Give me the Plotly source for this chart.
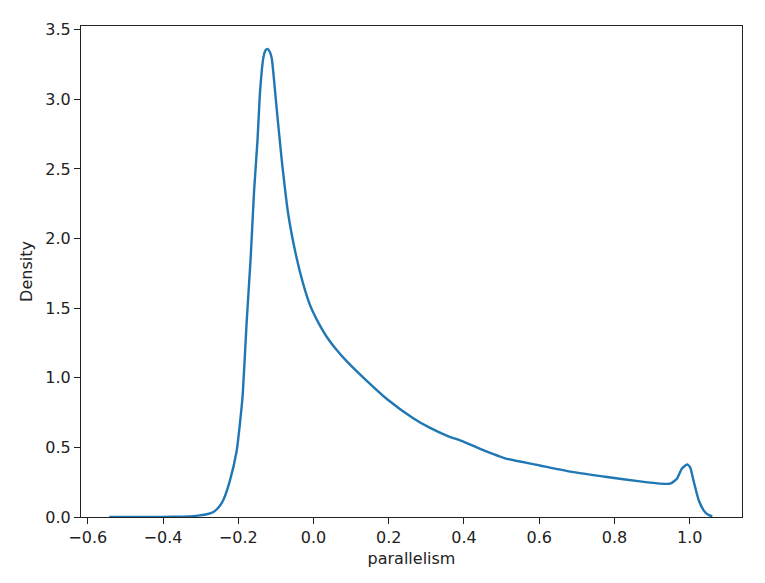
import plotly.graph_objects as go

x_vals = [-0.543, -0.45, -0.40, -0.35, -0.32, -0.302, -0.284, -0.266, -0.252, -0.240,
          -0.222, -0.204, -0.196, -0.188, -0.178, -0.167, -0.158, -0.149, -0.142, -0.1335,
          -0.128, -0.122, -0.116, -0.111, -0.098, -0.085, -0.067, -0.045, -0.028, -0.011,
          0.0, 0.015, 0.035, 0.06, 0.088, 0.141, 0.195, 0.265, 0.31, 0.354,
          0.40, 0.443, 0.514, 0.602, 0.691, 0.780, 0.868, 0.920, 0.948, 0.966,
          0.979, 0.993, 1.001, 1.010, 1.024, 1.037, 1.047, 1.06]
density = [0.0, 0.0, 0.001, 0.003, 0.006, 0.012, 0.02, 0.036, 0.07, 0.12,
           0.263, 0.478, 0.66, 0.884, 1.385, 1.862, 2.34, 2.70, 3.057, 3.295,
           3.35, 3.363, 3.34, 3.295, 2.937, 2.579, 2.173, 1.862, 1.68, 1.535,
           1.465, 1.385, 1.295, 1.205, 1.12, 0.98, 0.848, 0.71, 0.64, 0.585,
           0.54, 0.49, 0.418, 0.370, 0.322, 0.287, 0.256, 0.24, 0.239, 0.275,
           0.347, 0.377, 0.358, 0.263, 0.12, 0.048, 0.02, 0.004]

x_ticks = [-0.6, -0.4, -0.2, 0.0, 0.2, 0.4, 0.6, 0.8, 1.0]
y_ticks = [0.0, 0.5, 1.0, 1.5, 2.0, 2.5, 3.0, 3.5]

fig = go.Figure()
fig.add_trace(go.Scatter(
    x=x_vals, y=density, mode="lines",
    line=dict(color="#1f77b4", width=2.4, shape="spline", smoothing=0.5),
    showlegend=False, hoverinfo="skip",
))

font = dict(family="DejaVu Sans", size=16, color="#222222")
axis_common = dict(
    showline=True, linecolor="#222222", linewidth=1.2, mirror=True,
    ticks="outside", ticklen=6, tickwidth=1.2, tickcolor="#222222",
    showgrid=False, zeroline=False, tickfont=font,
)
fig.update_layout(
    width=765, height=583,
    margin=dict(l=73, r=31, t=16, b=74),
    paper_bgcolor="white", plot_bgcolor="white",
    font=font,
    xaxis=dict(range=[-0.618, 1.139], tickvals=x_ticks,
               ticktext=[f"{v:.1f}".replace("-", "\u2212") for v in x_ticks],
               title=dict(text="parallelism", font=font, standoff=6), **axis_common),
    yaxis=dict(range=[0, 3.527], tickvals=y_ticks,
               ticktext=[f"{v:.1f}" for v in y_ticks],
               title=dict(text="Density", font=font, standoff=8), **axis_common),
)
fig.write_html("out.html")
